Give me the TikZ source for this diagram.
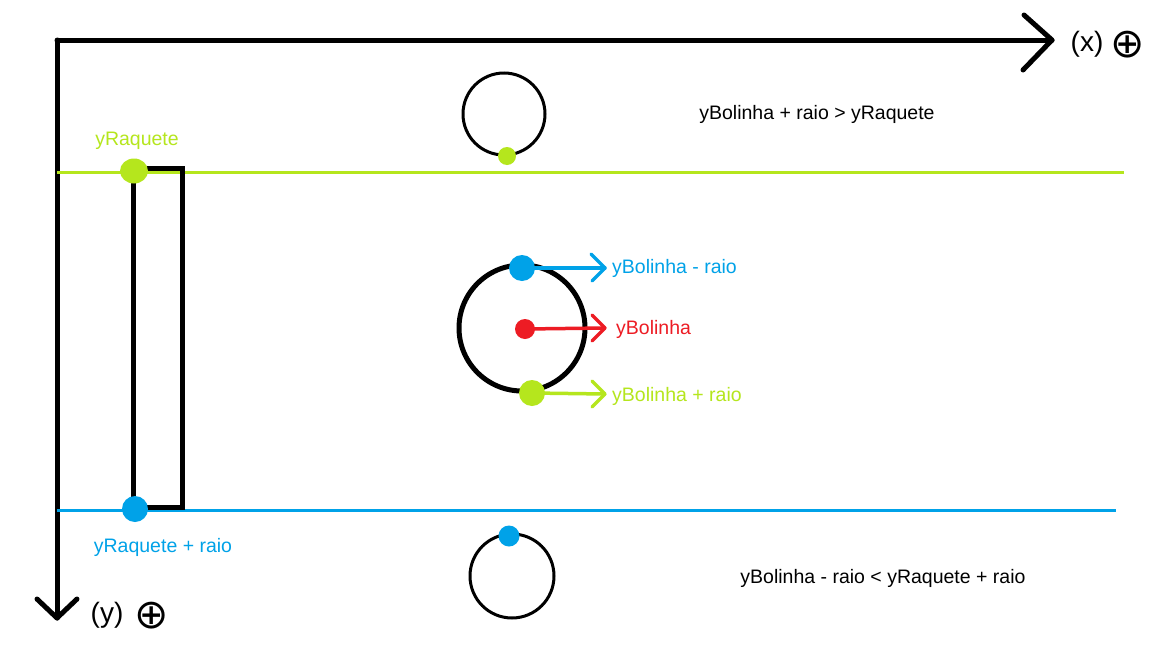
\documentclass[tikz,border=0pt]{standalone}
\usepackage{fontspec}
\usetikzlibrary{shapes.geometric}
\setmainfont{Liberation Sans}
\newfontfamily\symfont{DejaVu Sans}
\definecolor{lime}{HTML}{B5E61D}
\definecolor{sky}{HTML}{00A2E8}
\definecolor{crimson}{HTML}{ED1C24}
\begin{document}
\begin{tikzpicture}[x=1pt,y=-1pt,
  axis/.style={line width=5pt,black,line cap=round,line join=round},
  dot/.style={circle,fill=#1,inner sep=0pt,draw=none},
  lbl/.style={inner sep=0pt,font=\fontsize{19.5}{22}\selectfont,text=#1},
  ptr/.style={line width=3.5pt,draw=#1,line cap=round,line join=round},
  axlbl/.style={inner sep=0pt,font=\fontsize{28}{32}\selectfont},
  plus/.style={inner sep=0pt,font=\symfont\fontsize{41}{44}\selectfont}]
\useasboundingbox (0,0) rectangle (1152,648);
\fill[white] (0,0) rectangle (1152,648);
% axes
\coordinate (o) at (57,40);
\coordinate (xe) at (1052,40);
\coordinate (ye) at (57,618);
\draw[axis] (o) -- (xe);
\draw[axis] (xe) ++(-28,-25) -- (xe) -- ++(-29,30);
\draw[axis] (o) -- (ye);
\draw[axis] (ye) ++(-20,-19) -- (ye) -- ++(20,-19);
\node[axlbl] (xl) at (1087,44) {(x)};
\node[plus] (xp) at (1128,45) {⊕};
\node[axlbl] (yl) at (107,615) {(y)};
\node[plus] (yp) at (152,616) {⊕};
% horizontal reference lines
\coordinate (gl0) at (57,172);
\coordinate (gl1) at (1124,172);
\coordinate (bl0) at (57,510);
\coordinate (bl1) at (1116,510);
\draw[lime,line width=3pt] (gl0) -- (gl1);
\draw[sky,line width=3pt] (bl0) -- (bl1);
% paddle
\draw[line width=5pt] (133,168) rectangle (182,507);
\node[dot=lime,ellipse,minimum width=28pt,minimum height=25pt] (rq) at (134,171) {};
\node[dot=sky,minimum size=26pt] (rqr) at (135,509) {};
\node[lbl=lime] (rqt) at (137,141) {yRaquete};
\node[lbl=sky] (rqrt) at (163,547) {yRaquete + raio};
% top ball
\draw[line width=3pt] (504,114) circle (41);
\node[dot=lime,minimum size=18pt] (tb) at (507,156) {};
\node[lbl=black] (c1) at (817,114) {yBolinha + raio > yRaquete};
% middle ball
\draw[line width=5pt] (522,328) circle (63);
\node[dot=sky,minimum size=26pt] (bm) at (522,268) {};
\node[dot=crimson,minimum size=20pt] (bc) at (525,329) {};
\node[dot=lime,minimum size=26pt] (bp) at (532,393) {};
\coordinate (bmE) at (605,268);
\coordinate (bcE) at (605,328);
\coordinate (bpE) at (605,394);
\draw[ptr=sky] (bm.center) -- (bmE);
\draw[ptr=sky] (bmE) ++(-14,-14) -- (bmE) -- ++(-13,13);
\draw[ptr=crimson] (bc.center) -- (bcE);
\draw[ptr=crimson] (bcE) ++(-13,-13) -- (bcE) -- ++(-13,13);
\draw[ptr=lime] (bp.center) -- (bpE);
\draw[ptr=lime] (bpE) ++(-13,-13) -- (bpE) -- ++(-13,13);
\node[lbl=sky,anchor=west] (bmt) at (612,268) {yBolinha - raio};
\node[lbl=crimson,anchor=west] (bct) at (616,329) {yBolinha};
\node[lbl=lime,anchor=west] (bpt) at (612,396) {yBolinha + raio};
% bottom ball
\draw[line width=3pt] (512,576) circle (42);
\node[dot=sky,minimum size=21pt] (bb) at (509,536) {};
\node[lbl=black] (c2) at (883,578) {yBolinha - raio < yRaquete + raio};
\end{tikzpicture}
\end{document}
